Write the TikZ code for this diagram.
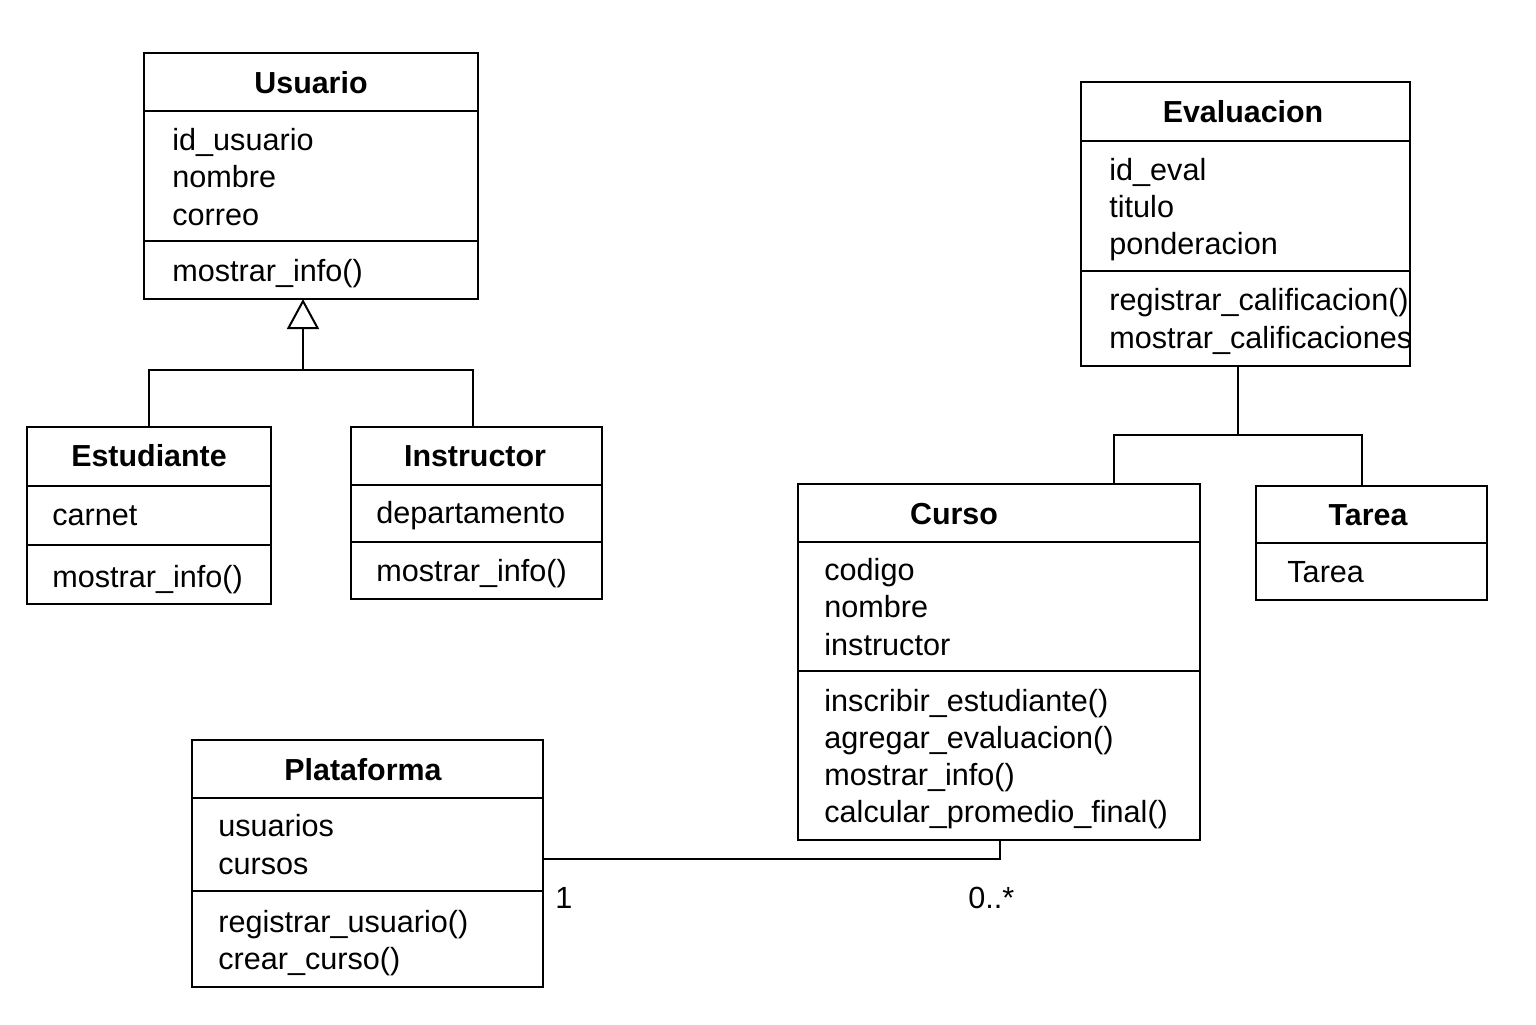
\documentclass[tikz,border=0pt]{standalone}
\usepackage{fontspec}
\setmainfont{Liberation Sans}
\usetikzlibrary{arrows.meta}
\begin{document}
\begin{tikzpicture}[x=0.5pt,y=-0.5pt,
  box/.style={draw, line width=1pt, inner sep=0pt, outer sep=0pt, anchor=center},
  ttl/.style={font=\fontsize{15.2}{18}\selectfont\bfseries, anchor=base, inner sep=0pt},
  txt/.style={font=\fontsize{15.3}{18}\selectfont, anchor=base west, inner sep=0pt},
  ln/.style={line width=1pt},
  gen/.style={line width=1pt, -{Triangle[open, length=15pt, width=16pt, fill=white, line width=1pt]}}]
\useasboundingbox (0,0) rectangle (1536,1024);

% Usuario
\node[box, minimum width=167pt, minimum height=123pt] (usuario) at (311,176) {};
\draw[ln] (144,111) -- (478,111);
\draw[ln] (144,241) -- (478,241);
\node[ttl] (usuarioT) at (311,93) {Usuario};
\node[txt] (u1) at (172,150) {id\_usuario};
\node[txt] (u2) at (172,187) {nombre};
\node[txt] (u3) at (172,225) {correo};
\node[txt] (u4) at (172,281) {mostrar\_info()};

% Estudiante
\node[box, minimum width=122pt, minimum height=88.5pt] (estudiante) at (149,515.5) {};
\draw[ln] (27,486) -- (271,486);
\draw[ln] (27,545) -- (271,545);
\node[ttl] (estudianteT) at (149,466) {Estudiante};
\node[txt] (e1) at (52,525) {carnet};
\node[txt] (e2) at (52,587) {mostrar\_info()};

% Instructor
\node[box, minimum width=125.5pt, minimum height=86pt] (instructor) at (476.5,513) {};
\draw[ln] (351,485) -- (602,485);
\draw[ln] (351,542) -- (602,542);
\node[ttl] (instructorT) at (475,466) {Instructor};
\node[txt] (i1) at (376,523) {departamento};
\node[txt] (i2) at (376,581) {mostrar\_info()};

% Evaluacion
\node[box, minimum width=164.5pt, minimum height=142pt] (evaluacion) at (1245.5,224) {};
\draw[ln] (1081,141) -- (1410,141);
\draw[ln] (1081,271) -- (1410,271);
\node[ttl] (evaluacionT) at (1243,122) {Evaluacion};
\node[txt] (v1) at (1109,180) {id\_eval};
\node[txt] (v2) at (1109,217) {titulo};
\node[txt] (v3) at (1109,254) {ponderacion};
\node[txt] (v4) at (1109,310) {registrar\_calificacion()};
\node[txt] (v5) at (1109,348) {mostrar\_calificaciones};

% Curso
\node[box, minimum width=201pt, minimum height=178pt] (curso) at (999,662) {};
\draw[ln] (798,542) -- (1200,542);
\draw[ln] (798,671) -- (1200,671);
\node[ttl] (cursoT) at (954,524) {Curso};
\node[txt] (c1) at (824,580) {codigo};
\node[txt] (c2) at (824,617) {nombre};
\node[txt] (c3) at (824,655) {instructor};
\node[txt] (c4) at (824,711) {inscribir\_estudiante()};
\node[txt] (c5) at (824,748) {agregar\_evaluacion()};
\node[txt] (c6) at (824,785) {mostrar\_info()};
\node[txt] (c7) at (824,822) {calcular\_promedio\_final()};

% Tarea
\node[box, minimum width=115.5pt, minimum height=57pt] (tarea) at (1371.5,543) {};
\draw[ln] (1256,543) -- (1487,543);
\node[ttl] (tareaT) at (1368,525) {Tarea};
\node[txt] (t1) at (1287,582) {Tarea};

% Plataforma
\node[box, minimum width=175.5pt, minimum height=123.5pt] (plataforma) at (367.5,863.5) {};
\draw[ln] (192,798) -- (543,798);
\draw[ln] (192,891) -- (543,891);
\node[ttl] (plataformaT) at (363,780) {Plataforma};
\node[txt] (p1) at (218,836) {usuarios};
\node[txt] (p2) at (218,874) {cursos};
\node[txt] (p3) at (218,932) {registrar\_usuario()};
\node[txt] (p4) at (218,969) {crear\_curso()};

% Generalization Usuario
\coordinate (j1) at (303,370);
\coordinate (j1a) at (473,370);
\draw[ln] (estudiante.north) |- (j1) -- (j1a) -- (j1a |- instructor.north);
\draw[gen] (j1) -- (j1 |- usuario.south);

% Evaluacion links
\coordinate (j2) at (1238,435);
\coordinate (j3) at (1114,435);
\coordinate (j4) at (1362,435);
\draw[ln] (j2 |- evaluacion.south) -- (j2);
\draw[ln] (j3 |- curso.north) -- (j3) -- (j4) -- (j4 |- tarea.north);

% Association
\coordinate (j5) at (1000,859);
\draw[ln] (plataforma.east |- j5) -- (j5) -- (j5 |- curso.south);
\node[txt] (m1) at (555,908) {1};
\node[txt] (m2) at (968,908) {0..*};
\end{tikzpicture}
\end{document}
